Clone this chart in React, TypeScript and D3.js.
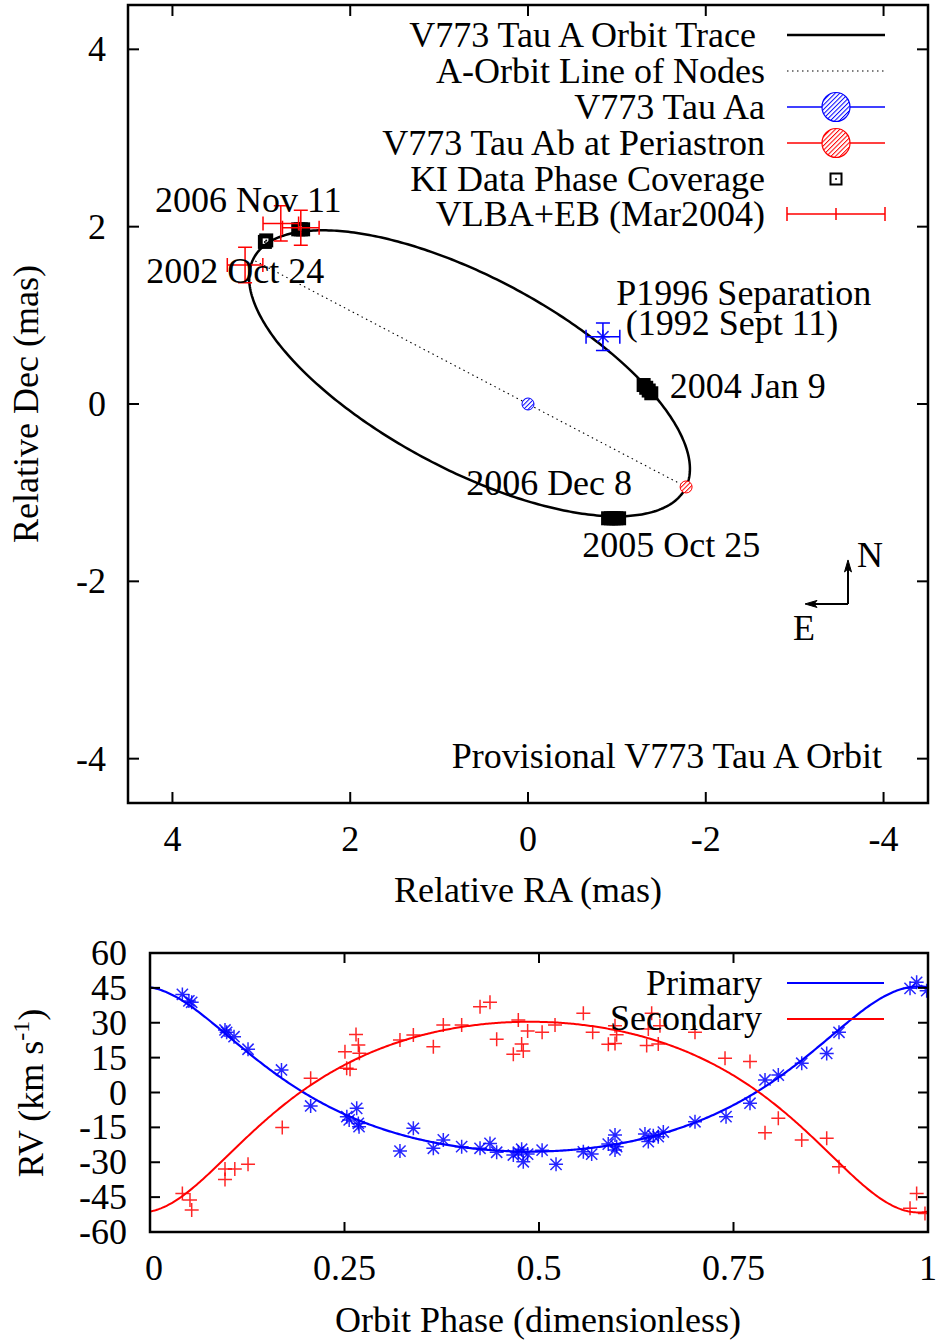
import React from 'react'
import * as d3 from 'd3'

// ---------- astrometric orbit, milliarcseconds (RA east positive, Dec) ----------
const ORBIT_ECC = 0.27
const ORBIT_AXIS_A = [-2.4365, -1.2815] // projected semimajor vector (towards periastron)
const ORBIT_AXIS_B = [0.46, -0.98] // projected conjugate vector
const AA_POSITION = [0, 0]

// KI phase coverage, plotted on the orbit
const KI_2002_OCT24 = [[2.96, 1.828], [2.945, 1.845]]
const KI_2006_NOV11 = [[2.585, 1.97], [2.556, 1.97], [2.53, 1.97]]
const KI_2004_JAN9 = [[-1.301, 0.214], [-1.33, 0.183], [-1.358, 0.152], [-1.387, 0.121]]
const KI_2005_OCT25 = [[-0.901, -1.289], [-0.933, -1.289], [-0.963, -1.289], [-0.994, -1.289], [-1.025, -1.289]]

// [ra, dec, raErr, decErr]
const VLBA_EB = [
  [2.781, 2.037, 0.2, 0.2],
  [2.556, 1.988, 0.206, 0.197],
  [3.183, 1.567, 0.2, 0.2],
]
const P1996_SEP = [[-0.843, 0.759, 0.19, 0.155]]

const RA_TICKS = [4, 2, 0, -2, -4]
const DEC_TICKS = [4, 2, 0, -2, -4]

const ORBIT_LEGEND = [
  'V773 Tau A Orbit Trace\u00A0',
  'A-Orbit Line of Nodes',
  'V773 Tau Aa',
  'V773 Tau Ab at Periastron',
  'KI Data Phase Coverage',
  'VLBA+EB (Mar2004)',
]

// [text, ra, dec] (left-justified, baseline)
const ORBIT_LABELS: [string, number, number][] = [
  ['2006 Nov 11', 4.197, 2.168],
  ['2002 Oct 24', 4.295, 1.361],
  ['P1996 Separation', -0.994, 1.116],
  ['(1992 Sept 11)', -1.099, 0.777],
  ['2004 Jan 9', -1.594, 0.064],
  ['2006 Dec 8', 0.696, -1.026],
  ['2005 Oct 25', -0.611, -1.722],
]

// ---------- radial velocities, km/s vs orbit phase ----------
const RV_ECC = 0.27
const RV_GAMMA = 0.5
const RV_K_PRIMARY = 35.5
const RV_K_SECONDARY = 41
const RV_OMEGA_DEG = 0
const RV_PERI_PHASE = -0.012

const PRIMARY_RV = [
  [0.0416, 42.2], [0.05, 39.4], [0.0536, 38.8], [0.0964, 26.9], [0.0985, 25.9],
  [0.108, 24.0], [0.126, 18.6], [0.169, 9.7], [0.2065, -5.8], [0.253, -10.4],
  [0.256, -11.8], [0.2657, -6.8], [0.2678, -13.3], [0.2687, -14.7], [0.3213, -25.2],
  [0.3385, -15.4], [0.3642, -24.0], [0.377, -20.4], [0.4006, -23.3], [0.4242, -24.0],
  [0.437, -21.9], [0.4456, -25.7], [0.467, -26.9], [0.4734, -25.7], [0.4777, -24.4],
  [0.4798, -29.8], [0.4854, -26.5], [0.504, -24.8], [0.5219, -30.9], [0.557, -25.5],
  [0.5677, -26.5], [0.589, -22.2], [0.5977, -18.3], [0.5998, -23.3], [0.5977, -24.7],
  [0.6362, -17.9], [0.6405, -21.1], [0.6469, -18.6], [0.6533, -19.0], [0.6598, -17.0],
  [0.7005, -12.6], [0.7404, -10.4], [0.7712, -4.6], [0.7905, 5.4], [0.8076, 7.5],
  [0.8377, 12.6], [0.8698, 16.8], [0.8856, 25.9], [0.9769, 44.8], [0.9854, 47.4],
  [0.9983, 43.8],
]

const SECONDARY_RV = [
  [0.0416, -43.4], [0.0514, -46.2], [0.0536, -50.5], [0.0964, -32.9], [0.0964, -37.4],
  [0.109, -32.9], [0.126, -30.9], [0.17, -15.1], [0.2065, 6.1], [0.2506, 17.5],
  [0.2528, 10.4], [0.2571, 10.0], [0.2648, 25.0], [0.2678, 20.4], [0.2691, 16.9],
  [0.3213, 22.6], [0.3385, 24.7], [0.3642, 19.7], [0.377, 29.0], [0.4006, 29.0],
  [0.4242, 36.9], [0.437, 38.8], [0.4456, 22.9], [0.467, 16.4], [0.4734, 31.2],
  [0.4777, 20.9], [0.4798, 17.8], [0.4854, 26.5], [0.504, 25.9], [0.5206, 29.0],
  [0.557, 34.1], [0.569, 25.9], [0.5891, 20.7], [0.5977, 21.1], [0.5977, 28.7],
  [0.5998, 24.8], [0.6384, 20.2], [0.6448, 34.1], [0.6405, 27.3], [0.6533, 20.9],
  [0.6555, 28.7], [0.7005, 25.9], [0.7391, 14.7], [0.7712, 13.3], [0.7905, -17.3],
  [0.8076, -11.1], [0.8377, -20.4], [0.8698, -19.7], [0.8856, -31.9], [0.9769, -49.8],
  [0.9854, -43.4], [0.9961, -52.0],
]

const PHASE_TICKS = [0, 0.25, 0.5, 0.75, 1]
const PHASE_TICK_LABELS = ['0', '0.25', '0.5', '0.75', '1']
const RV_TICKS = [60, 45, 30, 15, 0, -15, -30, -45, -60]

const FONT = "'Liberation Serif', 'Times New Roman', serif"
const FS = 36

function trueAnomaly(phase: number, e: number, periPhase: number) {
  const M = 2 * Math.PI * (phase - periPhase)
  let E = M
  for (let i = 0; i < 30; i++) E = E - (E - e * Math.sin(E) - M) / (1 - e * Math.cos(E))
  return 2 * Math.atan2(Math.sqrt(1 + e) * Math.sin(E / 2), Math.sqrt(1 - e) * Math.cos(E / 2))
}

function Frame({ x, y, xticks, yticks, tick = 11 }: any) {
  const [x0, x1] = x.range()
  const [y0, y1] = y.range()
  return (
    <g stroke="#000" strokeWidth={2}>
      {xticks.map((t: number, i: number) => (
        <g key={'x' + i}>
          <line x1={x(t)} x2={x(t)} y1={y0} y2={y0 - tick} />
          <line x1={x(t)} x2={x(t)} y1={y1} y2={y1 + tick} />
        </g>
      ))}
      {yticks.map((t: number, i: number) => (
        <g key={'y' + i}>
          <line x1={x0} x2={x0 + tick} y1={y(t)} y2={y(t)} />
          <line x1={x1} x2={x1 - tick} y1={y(t)} y2={y(t)} />
        </g>
      ))}
      <rect x={x0} y={y1} width={x1 - x0} height={y0 - y1} fill="none" strokeWidth={2.5} />
    </g>
  )
}

function kiBox(cx: number, cy: number, s: number, sw: number, key: any) {
  return (
    <g key={key}>
      <rect x={cx - s / 2} y={cy - s / 2} width={s} height={s} fill="none" stroke="#000" strokeWidth={sw} />
      <circle cx={cx} cy={cy} r={1} fill="#000" />
    </g>
  )
}

function asterisk(cx: number, cy: number, s: number, color: string, key: any) {
  const d = s * 0.8
  return (
    <path
      key={key}
      d={`M${cx - s},${cy}H${cx + s}M${cx},${cy - s}V${cy + s}M${cx - d},${cy - d}L${cx + d},${cy + d}M${cx - d},${cy + d}L${cx + d},${cy - d}`}
      stroke={color}
      strokeWidth={1.5}
      strokeOpacity={0.85}
      fill="none"
    />
  )
}

function plus(cx: number, cy: number, s: number, color: string, key: any) {
  return (
    <path
      key={key}
      d={`M${cx - s},${cy}H${cx + s}M${cx},${cy - s}V${cy + s}`}
      stroke={color}
      strokeWidth={1.5}
      strokeOpacity={0.85}
      fill="none"
    />
  )
}

function errorCross(cx: number, cy: number, dx: number, dy: number, color: string, key: any) {
  const c = 7
  return (
    <path
      key={key}
      d={`M${cx - dx},${cy}H${cx + dx}M${cx},${cy - dy}V${cy + dy}M${cx - dx},${cy - c}V${cy + c}M${cx + dx},${cy - c}V${cy + c}M${cx - c},${cy - dy}H${cx + c}M${cx - c},${cy + dy}H${cx + c}`}
      stroke={color}
      strokeWidth={1.5}
      fill="none"
    />
  )
}

export default function App() {
  // ---------------- top panel ----------------
  const xRA = d3.scaleLinear().domain([4.5, -4.5]).range([128, 928])
  const yDec = d3.scaleLinear().domain([-4.5, 4.5]).range([803, 5])

  const orbitPts = d3.range(0, 2 * Math.PI + 0.001, Math.PI / 200).map((E) => [
    ORBIT_AXIS_A[0] * (Math.cos(E) - ORBIT_ECC) + ORBIT_AXIS_B[0] * Math.sin(E),
    ORBIT_AXIS_A[1] * (Math.cos(E) - ORBIT_ECC) + ORBIT_AXIS_B[1] * Math.sin(E),
  ])
  const orbitLine = d3
    .line<number[]>()
    .x((d) => xRA(d[0]))
    .y((d) => yDec(d[1]))
  const peri = [ORBIT_AXIS_A[0] * (1 - ORBIT_ECC), ORBIT_AXIS_A[1] * (1 - ORBIT_ECC)]
  const apo = [-ORBIT_AXIS_A[0] * (1 + ORBIT_ECC), -ORBIT_AXIS_A[1] * (1 + ORBIT_ECC)]

  const legendRows = [35, 71, 107, 143, 179, 214]
  const lgX0 = 787
  const lgX1 = 885
  const lgXm = (lgX0 + lgX1) / 2

  // compass
  const cx = xRA(-3.6)
  const cy = yDec(-2.255)

  // ---------------- bottom panel ----------------
  const xPh = d3.scaleLinear().domain([0, 1]).range([150, 928])
  const yRV = d3.scaleLinear().domain([-60, 60]).range([1232, 953])
  const phases = d3.range(0, 1.0001, 0.002)
  const w = (RV_OMEGA_DEG * Math.PI) / 180
  const rvShape = (p: number) => Math.cos(trueAnomaly(p, RV_ECC, RV_PERI_PHASE) + w) + RV_ECC * Math.cos(w)
  const primaryPath = d3
    .line<number>()
    .x((p) => xPh(p))
    .y((p) => yRV(RV_GAMMA + RV_K_PRIMARY * rvShape(p)))(phases)
  const secondaryPath = d3
    .line<number>()
    .x((p) => xPh(p))
    .y((p) => yRV(RV_GAMMA - RV_K_SECONDARY * rvShape(p)))(phases)

  return (
    <svg
      width={938}
      height={1340}
      style={{ position: 'absolute', left: 0, top: 0, background: '#fff' }}
      fontFamily={FONT}
      fontSize={FS}
    >
      <defs>
        <pattern id="hatchBlue" width="3.2" height="3.2" patternUnits="userSpaceOnUse" patternTransform="rotate(45)">
          <rect width="3.2" height="3.2" fill="#fff" />
          <line x1="0" y1="0" x2="0" y2="3.2" stroke="#0000ff" strokeWidth="2" />
        </pattern>
        <pattern id="hatchRed" width="3.2" height="3.2" patternUnits="userSpaceOnUse" patternTransform="rotate(45)">
          <rect width="3.2" height="3.2" fill="#fff" />
          <line x1="0" y1="0" x2="0" y2="3.2" stroke="#ff0000" strokeWidth="2" />
        </pattern>
        <clipPath id="clipTop">
          <rect x={128} y={5} width={800} height={798} />
        </clipPath>
        <clipPath id="clipBottom">
          <rect x={150} y={953} width={778} height={279} />
        </clipPath>
      </defs>
      <rect width={938} height={1340} fill="#fff" />

      {/* ================= orbit panel ================= */}
      <g clipPath="url(#clipTop)">
        <line
          x1={xRA(peri[0])}
          y1={yDec(peri[1])}
          x2={xRA(apo[0])}
          y2={yDec(apo[1])}
          stroke="#000"
          strokeWidth={1.1}
          strokeDasharray="1.5,3.5"
        />
        <path d={orbitLine(orbitPts) || ''} fill="none" stroke="#000" strokeWidth={2.5} />
        {[KI_2002_OCT24, KI_2006_NOV11, KI_2004_JAN9, KI_2005_OCT25].map((set, j) =>
          set.map((p, i) => kiBox(xRA(p[0]), yDec(p[1]), 10.5, 3.5, `ki${j}-${i}`))
        )}
        {VLBA_EB.map((p, i) =>
          errorCross(xRA(p[0]), yDec(p[1]), Math.abs(xRA(p[2]) - xRA(0)), Math.abs(yDec(p[3]) - yDec(0)), '#ff0000', 'v' + i)
        )}
        {P1996_SEP.map((p, i) => (
          <g key={'p' + i}>
            {errorCross(xRA(p[0]), yDec(p[1]), Math.abs(xRA(p[2]) - xRA(0)), Math.abs(yDec(p[3]) - yDec(0)), '#0000ff', 'e')}
            {asterisk(xRA(p[0]), yDec(p[1]), 7, '#0000ff', 's')}
          </g>
        ))}
        <circle cx={xRA(AA_POSITION[0])} cy={yDec(AA_POSITION[1])} r={6} fill="url(#hatchBlue)" stroke="#0000ff" strokeWidth={1} />
        <circle cx={xRA(peri[0])} cy={yDec(peri[1])} r={6} fill="url(#hatchRed)" stroke="#ff0000" strokeWidth={1} />
      </g>

      <Frame x={xRA} y={yDec} xticks={RA_TICKS} yticks={DEC_TICKS} />

      {RA_TICKS.map((t) => (
        <text key={'rx' + t} x={xRA(t)} y={851} textAnchor="middle">
          {String(t)}
        </text>
      ))}
      {DEC_TICKS.map((t) => (
        <text key={'dy' + t} x={106} y={yDec(t) + 12} textAnchor="end">
          {String(t)}
        </text>
      ))}
      <text x={528} y={902} textAnchor="middle">
        Relative RA (mas)
      </text>
      <text transform="translate(38,404) rotate(-90)" textAnchor="middle">
        Relative Dec (mas)
      </text>

      {ORBIT_LABELS.map(([t, ra, dec]) => (
        <text key={t} x={xRA(ra)} y={yDec(dec)}>
          {t}
        </text>
      ))}
      <text x={882} y={768} textAnchor="end">
        Provisional V773 Tau A Orbit
      </text>

      {/* compass */}
      <g stroke="#000" strokeWidth={2} fill="#000">
        <line x1={cx} y1={cy} x2={cx} y2={cy - 40} />
        <line x1={cx} y1={cy} x2={cx - 38} y2={cy} />
        <path d={`M${cx},${cy - 44}L${cx - 3.5},${cy - 32}L${cx},${cy - 35}L${cx + 3.5},${cy - 32}Z`} strokeWidth={1} />
        <path d={`M${cx - 43},${cy}L${cx - 31},${cy - 3.5}L${cx - 34},${cy}L${cx - 31},${cy + 3.5}Z`} strokeWidth={1} />
      </g>
      <text x={cx + 9} y={cy - 37}>
        N
      </text>
      <text x={cx - 55} y={cy + 36}>
        E
      </text>

      {/* legend */}
      {ORBIT_LEGEND.map((t, i) => (
        <text key={t} x={765} y={legendRows[i] + 12} textAnchor="end">
          {t}
        </text>
      ))}
      <line x1={lgX0} x2={lgX1} y1={legendRows[0]} y2={legendRows[0]} stroke="#000" strokeWidth={2.5} />
      <line x1={lgX0} x2={lgX1} y1={legendRows[1]} y2={legendRows[1]} stroke="#000" strokeWidth={1.1} strokeDasharray="1.5,3.5" />
      <line x1={lgX0} x2={lgX1} y1={legendRows[2]} y2={legendRows[2]} stroke="#0000ff" strokeWidth={1.5} />
      <ellipse cx={lgXm} cy={legendRows[2]} rx={14} ry={14.5} fill="url(#hatchBlue)" stroke="#0000ff" strokeWidth={1.2} />
      <line x1={lgX0} x2={lgX1} y1={legendRows[3]} y2={legendRows[3]} stroke="#ff0000" strokeWidth={1.5} />
      <ellipse cx={lgXm} cy={legendRows[3]} rx={14} ry={14.5} fill="url(#hatchRed)" stroke="#ff0000" strokeWidth={1.2} />
      {kiBox(lgXm, legendRows[4], 11, 2, 'kil')}
      <path
        d={`M${lgX0},${legendRows[5]}H${lgX1}M${lgX0},${legendRows[5] - 7}V${legendRows[5] + 7}M${lgX1},${legendRows[5] - 7}V${legendRows[5] + 7}M${lgXm},${legendRows[5] - 6}V${legendRows[5] + 6}`}
        stroke="#ff0000"
        strokeWidth={1.5}
        fill="none"
      />

      {/* ================= RV panel ================= */}
      <g clipPath="url(#clipBottom)">
        <path d={primaryPath || ''} fill="none" stroke="#0000ff" strokeWidth={2.2} />
        <path d={secondaryPath || ''} fill="none" stroke="#ff0000" strokeWidth={2} />
        {PRIMARY_RV.map((d, i) => asterisk(xPh(d[0]), yRV(d[1]), 7, '#0000ff', 'pa' + i))}
        {SECONDARY_RV.map((d, i) => plus(xPh(d[0]), yRV(d[1]), 7, '#ff0000', 'sp' + i))}
      </g>
      <Frame x={xPh} y={yRV} xticks={PHASE_TICKS} yticks={RV_TICKS} tick={10} />
      {PHASE_TICKS.map((t, i) => (
        <text key={'ph' + t} x={xPh(t) + (i === 0 ? 4 : 0)} y={1280} textAnchor="middle">
          {PHASE_TICK_LABELS[i]}
        </text>
      ))}
      {RV_TICKS.map((t) => (
        <text key={'rv' + t} x={127} y={yRV(t) + 12} textAnchor="end">
          {String(t)}
        </text>
      ))}
      <text x={538} y={1332} textAnchor="middle">
        Orbit Phase (dimensionless)
      </text>
      <text transform="translate(43,1093) rotate(-90)" textAnchor="middle">
        RV (km s
        <tspan fontSize={24} dy={-14}>
          -1
        </tspan>
        <tspan dy={14}>)</tspan>
      </text>

      <text x={762} y={995} textAnchor="end">
        Primary
      </text>
      <text x={762} y={1030} textAnchor="end">
        Secondary
      </text>
      <line x1={787} x2={884} y1={983} y2={983} stroke="#0000ff" strokeWidth={2} />
      <line x1={787} x2={884} y1={1019} y2={1019} stroke="#ff0000" strokeWidth={2} />
    </svg>
  )
}
